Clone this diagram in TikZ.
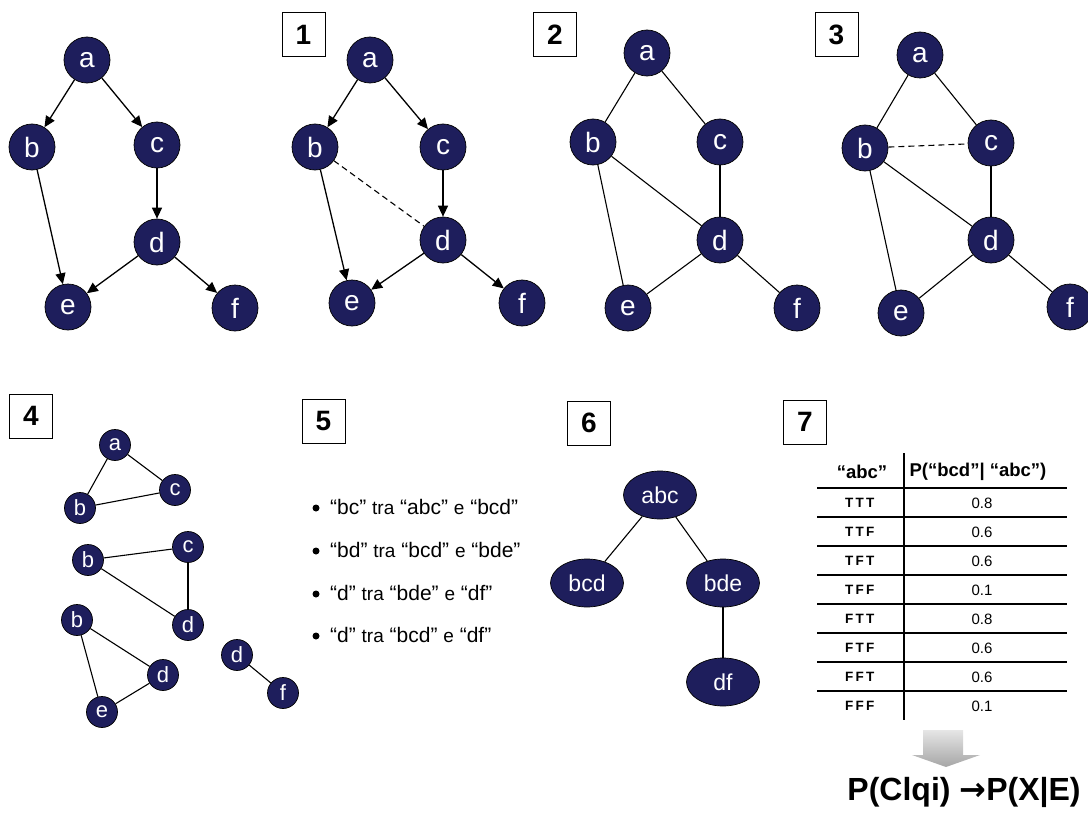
\documentclass[tikz,border=0pt]{standalone}
\usepackage{fontspec}
\setmainfont{Liberation Sans}
\newfontfamily\symfont{DejaVu Sans}
\usetikzlibrary{arrows.meta,shapes.geometric}
\definecolor{navy}{RGB}{30,30,92}
\tikzset{
  vtx/.style={circle, draw=black, line width=0.7pt, fill=navy, text=white,
    minimum size=46pt, inner sep=0pt, font=\fontsize{28}{28}\selectfont},
  svtx/.style={vtx, minimum size=31pt, font=\fontsize{22}{22}\selectfont},
  clq/.style={ellipse, draw=black, line width=0.7pt, fill=navy, text=white,
    minimum width=73pt, minimum height=48pt, inner sep=0pt,
    font=\fontsize{23}{23}\selectfont},
  dir/.style={line width=1.3pt, -{Triangle[length=11pt,width=10pt]}},
  und/.style={line width=1.1pt},
  tag/.style={draw, line width=1pt, minimum width=43pt, minimum height=44pt,
    inner sep=0pt, font=\bfseries\fontsize{28}{28}\selectfont},
  item/.style={anchor=west, inner sep=0pt, font=\fontsize{21}{21}\selectfont},
  dot/.style={circle, fill=black, inner sep=0pt, minimum size=7pt},
  hd/.style={inner sep=0pt, font=\bfseries\fontsize{18.5}{18.5}\selectfont},
  lab/.style={anchor=west, inner sep=0pt, font=\bfseries\fontsize{13.5}{13.5}\selectfont},
  val/.style={inner sep=0pt, font=\fontsize{15}{15}\selectfont}
}
\newcommand{\sm}[1]{{\fontsize{19}{19}\selectfont #1}}
\begin{document}
\begin{tikzpicture}[x=1pt,y=-1pt]
\useasboundingbox (0,0) rectangle (1088,816);

% ---- original network ----
\node[vtx] (p0a) at (87,60) {a};
\node[vtx] (p0b) at (32,147) {b};
\node[vtx] (p0c) at (157,145) {c};
\node[vtx] (p0d) at (157,242) {d};
\node[vtx] (p0e) at (68,307) {e};
\node[vtx] (p0f) at (235,308) {f};
\draw[dir] (p0a) -- (p0b);
\draw[dir] (p0a) -- (p0c);
\draw[dir] (p0c) -- (p0d);
\draw[dir] (p0b) -- (p0e);
\draw[dir] (p0d) -- (p0e);
\draw[dir] (p0d) -- (p0f);

% ---- step 1: moralisation ----
\node[tag] (t1) at (303.5,34.5) {1};
\node[vtx] (p1a) at (370,60) {a};
\node[vtx] (p1b) at (315,147) {b};
\node[vtx] (p1c) at (443,147) {c};
\node[vtx] (p1d) at (443,240) {d};
\node[vtx] (p1e) at (352,303) {e};
\node[vtx] (p1f) at (522,303) {f};
\draw[dir] (p1a) -- (p1b);
\draw[dir] (p1a) -- (p1c);
\draw[dir] (p1c) -- (p1d);
\draw[dir] (p1b) -- (p1e);
\draw[dir] (p1d) -- (p1e);
\draw[dir] (p1d) -- (p1f);
\draw[und, dash pattern=on 6pt off 4pt] (p1b) -- (p1d);

% ---- step 2: moral graph ----
\node[tag] (t2) at (555,34.5) {2};
\node[vtx] (p2a) at (647,53) {a};
\node[vtx] (p2b) at (593,142) {b};
\node[vtx] (p2c) at (720,142) {c};
\node[vtx] (p2d) at (720,240) {d};
\node[vtx] (p2e) at (628,308) {e};
\node[vtx] (p2f) at (797,308) {f};
\draw[und] (p2a) -- (p2b);
\draw[und] (p2a) -- (p2c);
\draw[und] (p2c) -- (p2d);
\draw[und] (p2b) -- (p2d);
\draw[und] (p2b) -- (p2e);
\draw[und] (p2d) -- (p2e);
\draw[und] (p2d) -- (p2f);

% ---- step 3: triangulation ----
\node[tag] (t3) at (836.5,34.5) {3};
\node[vtx] (p3a) at (920,55) {a};
\node[vtx] (p3b) at (865,148) {b};
\node[vtx] (p3c) at (991,143) {c};
\node[vtx] (p3d) at (991,240) {d};
\node[vtx] (p3e) at (901,313) {e};
\node[vtx] (p3f) at (1070,307) {f};
\draw[und] (p3a) -- (p3b);
\draw[und] (p3a) -- (p3c);
\draw[und] (p3c) -- (p3d);
\draw[und] (p3b) -- (p3d);
\draw[und] (p3b) -- (p3e);
\draw[und] (p3d) -- (p3e);
\draw[und] (p3d) -- (p3f);
\draw[und, dash pattern=on 6pt off 4pt] (p3b) -- (p3c);

% ---- step 4: cliques ----
\node[tag] (t4) at (31,416) {4};
\node[svtx] (q1a) at (115,445) {a};
\node[svtx] (q1b) at (80,508) {b};
\node[svtx] (q1c) at (175,490) {c};
\draw[und] (q1a) -- (q1b);
\draw[und] (q1a) -- (q1c);
\draw[und] (q1b) -- (q1c);
\node[svtx] (q2b) at (88,560) {b};
\node[svtx] (q2c) at (188,547) {c};
\node[svtx] (q2d) at (188,625) {d};
\draw[und] (q2b) -- (q2c);
\draw[und] (q2b) -- (q2d);
\draw[und] (q2c) -- (q2d);
\node[svtx] (q3b) at (77,620) {b};
\node[svtx] (q3d) at (163,675) {d};
\node[svtx] (q3e) at (102,712) {e};
\draw[und] (q3b) -- (q3d);
\draw[und] (q3b) -- (q3e);
\draw[und] (q3d) -- (q3e);
\node[svtx] (q4d) at (237,655) {d};
\node[svtx] (q4f) at (283,693) {f};
\draw[und] (q4d) -- (q4f);

% ---- step 5: separators ----
\node[tag] (t5) at (323.5,421.5) {5};
\node[dot] (b1) at (316,508) {};
\node[dot] (b2) at (316,551) {};
\node[dot] (b3) at (316,594) {};
\node[dot] (b4) at (316,636) {};
\node[item] (s1) at (330,507) {“bc” \sm{tra} “abc” \sm{e} “bcd”};
\node[item] (s2) at (330,550) {“bd” \sm{tra} “bcd” \sm{e} “bde”};
\node[item] (s3) at (330,593) {“d” \sm{tra} “bde” \sm{e} “df”};
\node[item] (s4) at (330,635) {“d” \sm{tra} “bcd” \sm{e} “df”};

% ---- step 6: junction tree ----
\node[tag] (t6) at (589,423) {6};
\node[clq] (abc) at (660,495) {abc};
\node[clq] (bcd) at (587,583) {bcd};
\node[clq] (bde) at (723,583) {bde};
\node[clq] (df) at (723,682) {df};
\draw[und] (abc) -- (bcd);
\draw[und] (abc) -- (bde);
\draw[und] (bde) -- (df);

% ---- step 7: potential table ----
\node[tag] (t7) at (805,422) {7};
\draw[line width=1.3pt] (904,453) -- (904,720);
\node[hd] (h1) at (862,472) {“abc”};
\node[hd] (h2) at (978,472) {P(“bcd”| “abc”)};
\foreach \k in {0,...,7}
  \draw[line width=1.3pt] (817,488+29*\k) -- (1067,488+29*\k);
\foreach \lab/\v [count=\i from 0] in {T\,T\,T/0.8, T\,T\,F/0.6, T\,F\,T/0.6, T\,F\,F/0.1,
                                       F\,T\,T/0.8, F\,T\,F/0.6, F\,F\,T/0.6, F\,F\,F/0.1} {
  \node[lab] (r\i) at (845,503+29*\i) {\lab};
  \node[val] (v\i) at (982,503+29*\i) {\v};
}
\shade[top color=gray!20, bottom color=gray!70]
  (923,730) -- (963,730) -- (963,755) -- (980,755) -- (946,767)
  -- (912,755) -- (923,755) -- cycle;
\node[inner sep=0pt, font=\bfseries\fontsize{32}{32}\selectfont] (res) at (964,792)
  {P(Clqi) {\symfont\bfseries →}P(X|E)};
\end{tikzpicture}
\end{document}
